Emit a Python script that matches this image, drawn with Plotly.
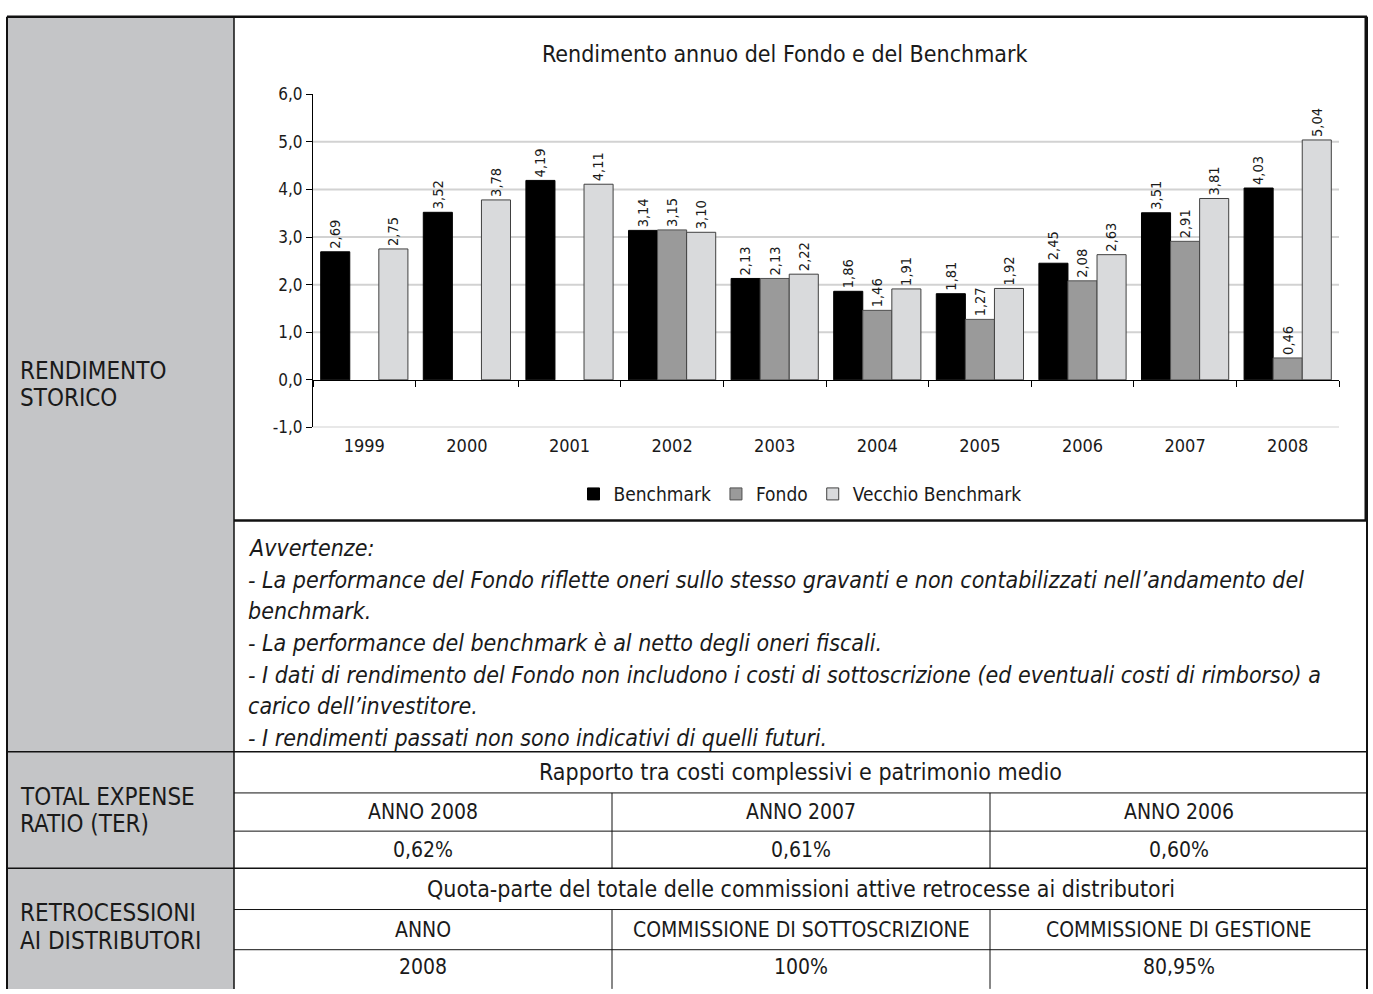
import plotly.graph_objects as go

# ---------------- data ----------------
years = ['1999', '2000', '2001', '2002', '2003', '2004', '2005', '2006', '2007', '2008']
benchmark = [2.69, 3.52, 4.19, 3.14, 2.13, 1.86, 1.81, 2.45, 3.51, 4.03]
fondo = [None, None, None, 3.15, 2.13, 1.46, 1.27, 2.08, 2.91, 0.46]
vecchio = [2.75, 3.78, 4.11, 3.10, 2.22, 1.91, 1.92, 2.63, 3.81, 5.04]
series_names = ['Benchmark', 'Fondo', 'Vecchio Benchmark']
y_ticks = [-1, 0, 1, 2, 3, 4, 5, 6]
y_ticktext = ['-1,0', '0,0', '1,0', '2,0', '3,0', '4,0', '5,0', '6,0']
grid_vals = [-1, 1, 2, 3, 4, 5]

chart_title = 'Rendimento annuo del Fondo e del Benchmark'
warning_lines = [
    'Avvertenze:',
    '- La performance del Fondo riflette oneri sullo stesso gravanti e non contabilizzati nell\u2019andamento del',
    'benchmark.',
    '- La performance del benchmark è al netto degli oneri fiscali.',
    '- I dati di rendimento del Fondo non includono i costi di sottoscrizione (ed eventuali costi di rimborso) a',
    'carico dell\u2019investitore.',
    '- I rendimenti passati non sono indicativi di quelli futuri.',
]
row_labels = [['RENDIMENTO', 'STORICO'], ['TOTAL EXPENSE', 'RATIO (TER)'], ['RETROCESSIONI', 'AI DISTRIBUTORI']]
ter_header = 'Rapporto tra costi complessivi e patrimonio medio'
ter_cols = ['ANNO 2008', 'ANNO 2007', 'ANNO 2006']
ter_vals = ['0,62%', '0,61%', '0,60%']
retro_header = 'Quota-parte del totale delle commissioni attive retrocesse ai distributori'
retro_cols = ['ANNO', 'COMMISSIONE DI SOTTOSCRIZIONE', 'COMMISSIONE DI GESTIONE']
retro_vals = ['2008', '100%', '80,95%']

# ---------------- layout helpers ----------------
W, H = 1373, 994
FONT = 'Liberation Sans Narrow, Arial Narrow, DejaVu Sans Condensed, sans-serif'
TXT = '#1a1a1a'


def px(x):
    return x / W


def py(y):
    return 1 - y / H


# grid geometry (pixels)
L, G, R = 7, 234, 1367
TOP, CHART_BOT = 7, 521
row_y = [757, 799, 838, 876, 918, 959, 994]
col_x = [234, 612, 990, 1367]

fig = go.Figure()
colors = ['#000000', '#9a9a9a', '#d9dadc']
lines = ['#000000', '#505050', '#404040']
for name, vals, c, lc in zip(series_names, [benchmark, fondo, vecchio], colors, lines):
    fig.add_trace(go.Bar(
        x=years, y=vals, name=name,
        marker=dict(color=c, line=dict(color=lc, width=1)),
        texttemplate='%{y:.2f}', textposition='outside', textangle=-90,
        textfont=dict(family=FONT, size=15, color=TXT),
        cliponaxis=False, hoverinfo='skip',
    ))

# invisible helper trace for the axis drawn at y = 0
fig.add_trace(go.Scatter(x=years, y=[None] * len(years), xaxis='x2', yaxis='y',
                         showlegend=False, hoverinfo='skip', mode='markers'))

plot_top, plot_bot = 86, 426
plot_l, plot_r = 313, 1339
ydom = [py(plot_bot), py(plot_top)]
zero_pos = ydom[0] + (0 - (-1)) / 7 * (ydom[1] - ydom[0])

shapes = []
shapes.append(dict(type='rect', xref='paper', yref='paper', x0=px(L), x1=px(G), y0=py(H + 5), y1=py(TOP),
                   fillcolor='#c4c5c7', line=dict(width=0), layer='below'))
for v in grid_vals:
    shapes.append(dict(type='line', xref='x domain', yref='y', x0=0, x1=1, y0=v, y1=v,
                       line=dict(color='#d2d2d2', width=2), layer='below'))


def hline(y, x0, x1, w=1.0, c='#111111'):
    shapes.append(dict(type='line', xref='paper', yref='paper', x0=px(x0), x1=px(x1), y0=py(y), y1=py(y),
                       line=dict(color=c, width=w)))


def vline(x, y0, y1, w=1.0, c='#111111'):
    shapes.append(dict(type='line', xref='paper', yref='paper', x0=px(x), x1=px(x), y0=py(y0), y1=py(y1),
                       line=dict(color=c, width=w)))


hline(TOP, L, R, 2.5)
vline(L, TOP, H + 5, 2)
vline(R, TOP, H + 5, 2)
vline(G, TOP, H + 5, 1.5)
hline(CHART_BOT, G, R, 2.5)
vline(R - 1, TOP, CHART_BOT, 3)
hline(row_y[0], L, R, 1.5)
hline(row_y[1], G, R, 1)
hline(row_y[2], G, R, 1)
hline(row_y[3], L, R, 1.5)
hline(row_y[4], G, R, 1)
hline(row_y[5], G, R, 1)
for cx in col_x[1:3]:
    vline(cx, row_y[1], row_y[3], 1)
    vline(cx, row_y[4], H + 5, 1)

ann = []
ann.append(dict(text=chart_title, x=px(784), y=py(45), xref='paper', yref='paper', showarrow=False,
                xanchor='center', yanchor='middle', font=dict(family=FONT, size=23, color=TXT)))
label_centers = [382, 817, 936]
for lab, cy in zip(row_labels, label_centers):
    for i, t in enumerate(lab):
        ann.append(dict(text=t, x=px(18), y=py(cy - 14 + 28 * i), xref='paper', yref='paper', showarrow=False,
                        xanchor='left', yanchor='middle', font=dict(family=FONT, size=24, color=TXT)))
for i, t in enumerate(warning_lines):
    ann.append(dict(text='<i>' + t + '</i>', x=px(246), y=py(549 + 32.3 * i), xref='paper', yref='paper',
                    showarrow=False, xanchor='left', yanchor='middle',
                    font=dict(family=FONT, size=23, color=TXT)))
mid = (G + R) / 2
col_c = [(col_x[i] + col_x[i + 1]) / 2 for i in range(3)]
for header, cols, vals, r0 in [(ter_header, ter_cols, ter_vals, 0), (retro_header, retro_cols, retro_vals, 3)]:
    ann.append(dict(text=header, x=px(mid), y=py((row_y[r0] + row_y[r0 + 1]) / 2), xref='paper', yref='paper',
                    showarrow=False, xanchor='center', yanchor='middle', font=dict(family=FONT, size=23, color=TXT)))
    for c, t in zip(col_c, cols):
        ann.append(dict(text=t, x=px(c), y=py((row_y[r0 + 1] + row_y[r0 + 2]) / 2), xref='paper', yref='paper',
                        showarrow=False, xanchor='center', yanchor='middle',
                        font=dict(family=FONT, size=21, color=TXT)))
    for c, t in zip(col_c, vals):
        ann.append(dict(text=t, x=px(c), y=py((row_y[r0 + 2] + row_y[r0 + 3]) / 2), xref='paper', yref='paper',
                        showarrow=False, xanchor='center', yanchor='middle',
                        font=dict(family=FONT, size=21, color=TXT)))

fig.update_layout(
    width=W, height=H, autosize=False,
    margin=dict(l=0, r=0, t=0, b=0, pad=0),
    paper_bgcolor='white', plot_bgcolor='rgba(0,0,0,0)',
    separators=',.',
    barmode='group', bargap=0.15, bargroupgap=0,
    font=dict(family=FONT, color=TXT),
    showlegend=True,
    legend=dict(orientation='h', x=px(800), xanchor='center', y=py(494), yanchor='middle',
                font=dict(family=FONT, size=19, color=TXT), bgcolor='rgba(0,0,0,0)',
                itemwidth=30, tracegroupgap=0),
    xaxis=dict(domain=[px(plot_l), px(plot_r)], type='category', categoryarray=years, range=[-0.5, 9.5],
               showline=False, showgrid=False, zeroline=False, ticks='', ticklabelstandoff=6,
               tickfont=dict(family=FONT, size=18, color=TXT), anchor='y', fixedrange=True),
    xaxis2=dict(overlaying='x', anchor='free', position=zero_pos, type='category', categoryarray=years,
                range=[-0.5, 9.5], showline=True, linecolor='#000000', linewidth=1.2, ticks='outside',
                tickson='boundaries', ticklen=6, tickcolor='#000000', tickwidth=1.2,
                showticklabels=False, showgrid=False, zeroline=False, fixedrange=True),
    yaxis=dict(domain=ydom, range=[-1, 6], tickvals=y_ticks, ticktext=y_ticktext, ticks='outside', ticklen=6,
               tickcolor='#000000', showline=True, linecolor='#000000', linewidth=1.2, showgrid=False,
               zeroline=False, tickfont=dict(family=FONT, size=17, color=TXT), anchor='x', fixedrange=True),
    shapes=shapes, annotations=ann,
)

fig.write_html('out.html', config={'displayModeBar': False},
               post_script="document.body.style.margin='0px';document.body.style.overflow='hidden';")
